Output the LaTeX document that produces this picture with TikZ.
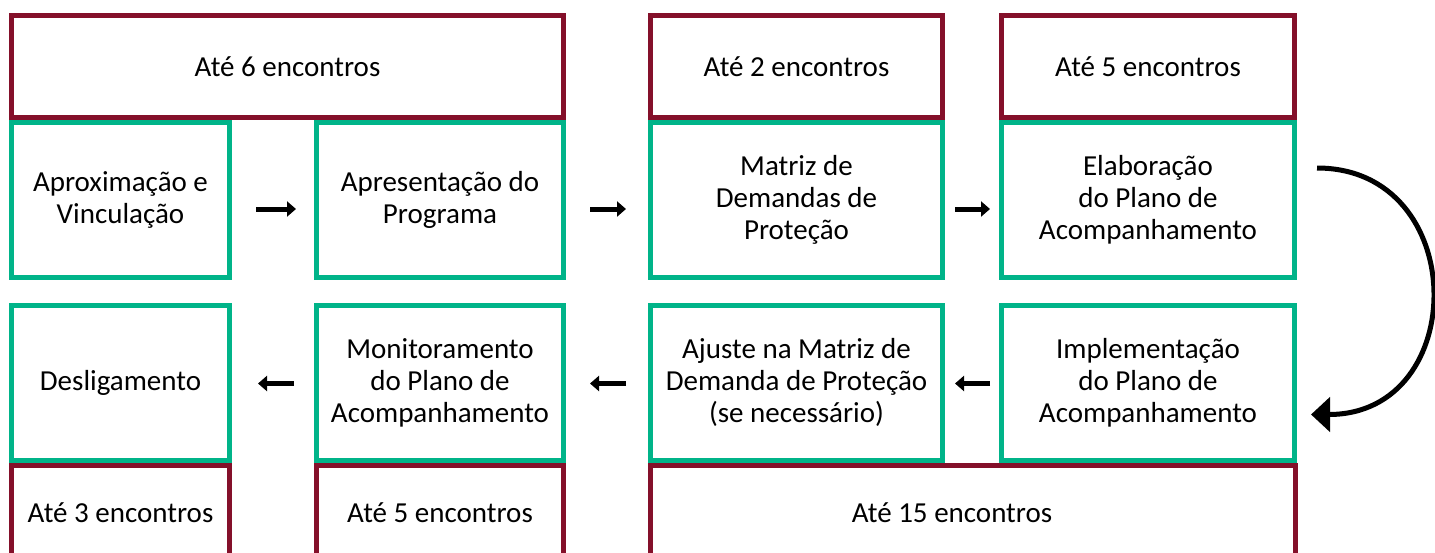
\documentclass[tikz,border=0pt]{standalone}
\usepackage{fontspec}
\setmainfont{Carlito}
\usepackage{tikz}
\usetikzlibrary{arrows.meta,positioning}
\definecolor{etRed}{HTML}{84102A}
\definecolor{etGreen}{HTML}{00B489}
\definecolor{etText}{HTML}{000000}

\begin{document}
\begin{tikzpicture}[
    x=1pt,y=-1pt,
    font=\fontsize{29}{32}\selectfont,
    box/.style={line width=5pt,fill=white,align=center,text=etText,inner sep=0pt},
    stage/.style={box,draw=etGreen,minimum height=155pt},
    count/.style={box,draw=etRed},
    ar/.style={-{Triangle[length=9pt,width=15pt]},line width=5pt,draw=black},
    turn/.style={-{Triangle[length=19pt,width=34pt]},line width=5pt,draw=black}
  ]
    \useasboundingbox (0,0) rectangle (1435,552);

    \node[count,minimum width=552pt,minimum height=102pt] (top1) at (287.5,66.5) {Até 6 encontros};
    \node[count,minimum width=292pt,minimum height=102pt] (top3) at (796.5,66.5) {Até 2 encontros};
    \node[count,minimum width=293pt,minimum height=102pt] (top4) at (1148,66.5)  {Até 5 encontros};

    \node[stage,minimum width=218pt] (aprox) at (120.5,200) {Aproximação e\\Vinculação};
    \node[stage,minimum width=247pt] (apres) at (440,200)   {Apresentação do\\Programa};
    \node[stage,minimum width=292pt] (matriz) at (796.5,200) {Matriz de\\Demandas de\\Proteção};
    \node[stage,minimum width=293pt] (elab) at (1148,200)   {Elaboração\\do Plano de\\Acompanhamento};

    \node[stage,minimum width=218pt] (desl)   at (120.5,382.5) {Desligamento};
    \node[stage,minimum width=247pt] (monit)  at (440,382.5)   {Monitoramento\\do Plano de\\Acompanhamento};
    \node[stage,minimum width=292pt] (ajuste) at (796.5,382.5) {Ajuste na Matriz de\\Demanda de Proteção\\(se necessário)};
    \node[stage,minimum width=293pt] (impl)   at (1148,382.5)  {Implementação\\do Plano de\\Acompanhamento};

    \node[count,minimum width=218pt,minimum height=95pt] (bot1) at (120.5,513) {Até 3 encontros};
    \node[count,minimum width=247pt,minimum height=95pt] (bot2) at (440,513)   {Até 5 encontros};
    \node[count,minimum width=645pt,minimum height=95pt] (bot3) at (973,513)   {Até 15 encontros\hspace*{42pt}};

    \draw[ar] ([xshift=24pt,yshift=-9pt]aprox.east)  -- ([xshift=-18pt,yshift=-9pt]apres.west);
    \draw[ar] ([xshift=24pt,yshift=-9pt]apres.east)  -- ([xshift=-22pt,yshift=-9pt]matriz.west);
    \draw[ar] ([xshift=10pt,yshift=-9pt]matriz.east) -- ([xshift=-9pt,yshift=-9pt]elab.west);

    \draw[ar] ([xshift=-9pt,yshift=-1pt]impl.west)    -- ([xshift=10pt,yshift=-1pt]ajuste.east);
    \draw[ar] ([xshift=-22pt,yshift=-1pt]ajuste.west) -- ([xshift=24pt,yshift=-1pt]monit.east);
    \draw[ar] ([xshift=-20pt,yshift=-1pt]monit.west)  -- ([xshift=26pt,yshift=-1pt]desl.east);

    \coordinate (turnA) at ([xshift=20pt,yshift=32pt]elab.east);
    \coordinate (turnB) at ([xshift=14pt,yshift=-32pt]impl.east);
    \draw[turn] (turnA) .. controls +(154,0) and +(160,0) .. (turnB);
  \end{tikzpicture}
\end{document}
